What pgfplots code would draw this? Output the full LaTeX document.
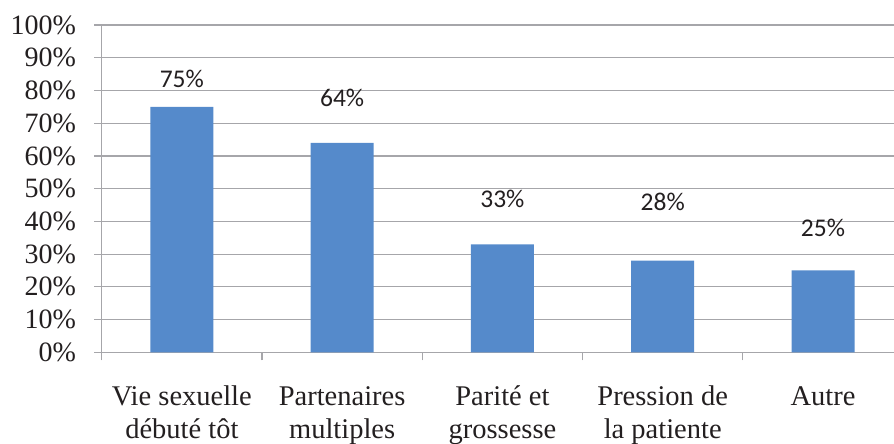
\documentclass[border=0pt]{standalone}
\usepackage{fontspec}
\setmainfont{Liberation Serif}
\newfontfamily\calibri{Carlito}
\usepackage{pgfplots}
\usepackage{pgfplotstable}
\pgfplotsset{compat=1.18}

\definecolor{barblue}{RGB}{85,138,203}
\definecolor{gridgray}{RGB}{166,166,170}
\definecolor{textdark}{RGB}{35,31,32}

% x, share (%), label lift above the bar top (bp)
\pgfplotstableread{
x y off
0 75 19.4
1 64 36
2 33 36.7
3 28 50
4 25 34.3
}\facteurs

\begin{document}
\begin{tikzpicture}
\useasboundingbox (0,0) rectangle (894bp,444bp);
\begin{axis}[
  at={(101.7bp,91.7bp)}, anchor=south west,
  scale only axis, width=792.3bp, height=327.3bp,
  xmin=-0.5, xmax=4.443, ymin=0, ymax=100,
  axis lines*=left,
  axis line style={draw=gridgray, line width=1.2bp},
  ymajorgrids,
  grid style={draw=gridgray, line width=1.2bp},
  tick align=outside,
  major tick length=7.5bp, minor tick length=8bp,
  tick style={draw=gridgray, line width=1.2bp},
  major x tick style={draw=none},
  ytick={0,10,...,100},
  yticklabels={0\%,10\%,20\%,30\%,40\%,50\%,60\%,70\%,80\%,90\%,100\%},
  yticklabel style={font=\fontsize{28bp}{33bp}\selectfont, text=textdark,
    anchor=east, inner sep=0pt, xshift=-18bp},
  xtick={0,1,2,3,4},
  minor xtick={-0.5,0.5,1.5,2.5,3.5},
  xticklabels={\strut Vie sexuelle\\débuté tôt, \strut Partenaires\\multiples, \strut Parité et\\grossesse, \strut Pression de\\la patiente, \strut Autre},
  xticklabel style={font=\fontsize{28.5bp}{33bp}\selectfont, text=textdark,
    align=center, anchor=north, inner sep=0pt, yshift=-22bp},
  clip=false,
]
\addplot[ybar, bar width=63bp, fill=barblue, draw=none,
  visualization depends on={\thisrow{off} \as \labeloff},
  nodes near coords={\pgfmathprintnumber[fixed,precision=0,assume math mode=true]{\pgfplotspointmeta}\%},
  every node near coord/.append style={anchor=base, yshift=\labeloff bp,
    font=\calibri\fontsize{25.5bp}{30bp}\selectfont, text=textdark, inner sep=0pt},
] table[x=x, y=y] {\facteurs};
\end{axis}
\end{tikzpicture}
\end{document}
